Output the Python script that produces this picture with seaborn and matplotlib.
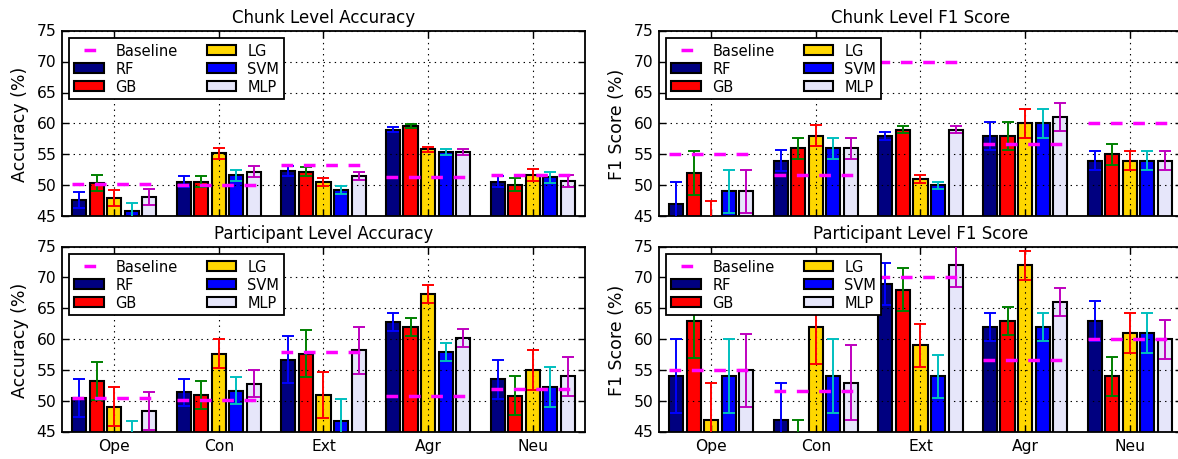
import matplotlib
matplotlib.use("Agg")
import matplotlib.pyplot as plt
import matplotlib.patches as mpatches
from matplotlib.lines import Line2D
import seaborn as sns
import pandas as pd

traits = ["Ope", "Con", "Ext", "Agr", "Neu"]
models = ["RF", "GB", "LG", "SVM", "MLP"]

bar_colors = ["#000080", "#ff0000", "#ffd700", "#0000ff", "#e6e6fa"]
err_colors = ["#0000ff", "#008000", "#ff0000", "#00bfbf", "#bf00bf"]
baseline_color = "#ff00ff"

# chunk level accuracy
chunk_acc = {
    "RF": [47.6, 50.6, 52.3, 59.0, 50.6],
    "GB": [50.3, 50.6, 52.2, 59.6, 50.1],
    "LG": [47.9, 55.2, 50.5, 55.8, 51.7],
    "SVM": [45.9, 51.6, 49.2, 55.4, 51.3],
    "MLP": [48.1, 52.2, 51.5, 55.4, 50.7],
}
chunk_acc_err = {
    "RF": [1.3, 0.9, 0.8, 0.4, 0.9],
    "GB": [1.3, 0.9, 0.7, 0.35, 1.0],
    "LG": [1.3, 0.9, 0.7, 0.4, 0.95],
    "SVM": [1.25, 0.9, 0.6, 0.45, 0.9],
    "MLP": [1.35, 0.9, 0.7, 0.45, 0.95],
}
chunk_acc_base = [50.2, 50.1, 53.3, 51.4, 51.7]

# chunk level f1
chunk_f1 = {
    "RF": [47, 54, 58, 58, 54],
    "GB": [52, 56, 59, 58, 55],
    "LG": [44, 58, 51, 60, 54],
    "SVM": [49, 56, 50, 60, 54],
    "MLP": [49, 56, 59, 61, 54],
}
chunk_f1_err = {
    "RF": [3.5, 1.7, 0.6, 2.3, 1.6],
    "GB": [3.5, 1.7, 0.6, 2.3, 1.7],
    "LG": [3.5, 1.7, 0.6, 2.35, 1.6],
    "SVM": [3.5, 1.7, 0.6, 2.3, 1.6],
    "MLP": [3.5, 1.7, 0.6, 2.3, 1.6],
}
chunk_f1_base = [55.0, 51.7, 70.0, 56.7, 60.0]

# participant level accuracy
part_acc = {
    "RF": [50.5, 51.4, 56.7, 62.8, 53.5],
    "GB": [53.2, 51.0, 57.7, 62.0, 50.9],
    "LG": [49.1, 57.7, 51.0, 67.3, 55.0],
    "SVM": [43.6, 51.7, 46.7, 58.0, 52.3],
    "MLP": [48.4, 52.8, 58.2, 60.15, 54.0],
}
part_acc_err = {
    "RF": [3.15, 2.2, 3.8, 1.45, 3.15],
    "GB": [3.1, 2.3, 3.75, 1.45, 3.1],
    "LG": [3.2, 2.3, 3.75, 1.5, 3.2],
    "SVM": [3.2, 2.2, 3.7, 1.45, 3.2],
    "MLP": [3.1, 2.2, 3.75, 1.45, 3.2],
}
part_acc_base = [50.5, 50.25, 58.0, 50.9, 52.0]

# participant level f1
part_f1 = {
    "RF": [54, 47, 69, 62, 63],
    "GB": [63, 41, 68, 63, 54],
    "LG": [47, 62, 59, 72, 61],
    "SVM": [54, 54, 54, 62, 61],
    "MLP": [55, 53, 72, 66, 60],
}
part_f1_err = {
    "RF": [6, 6, 3.4, 2.3, 3.2],
    "GB": [6, 6, 3.5, 2.3, 3.2],
    "LG": [6, 6, 3.45, 2.35, 3.2],
    "SVM": [6, 6, 3.45, 2.3, 3.2],
    "MLP": [5.9, 6, 3.5, 2.3, 3.2],
}
part_f1_base = [55.0, 51.7, 70.0, 56.7, 60.0]


def make_frame(values, errors):
    rows = []
    for m in models:
        for t, v, e in zip(traits, values[m], errors[m]):
            rows.append({"trait": t, "model": m, "value": v, "err": e})
    return pd.DataFrame(rows)


def draw_panel(ax, values, errors, baseline, title, ylabel, show_xlabels):
    df = make_frame(values, errors)
    sns.barplot(data=df, x="trait", y="value", hue="model",
                order=traits, hue_order=models, palette=bar_colors,
                edgecolor="black", linewidth=1.5, width=0.84, gap=0.2,
                saturation=1, errorbar=None, legend=False, ax=ax)
    bar_groups = list(ax.containers)

    # error bars on top of each bar, coloured like the old matplotlib cycle
    for container, m, ec in zip(bar_groups, models, err_colors):
        xs = [b.get_x() + b.get_width() / 2 for b in container]
        ax.errorbar(xs, values[m], yerr=errors[m], fmt="none", ecolor=ec,
                    elinewidth=1.4, capsize=4, capthick=1.4, zorder=3)

    # dashed baseline across each group
    first, last = bar_groups[0], bar_groups[-1]
    for i, b in enumerate(baseline):
        x0 = first[i].get_x()
        x1 = last[i].get_x() + last[i].get_width()
        ax.hlines(b, x0, x1, colors=baseline_color, linewidth=2.5,
                  linestyles=[(0, (8.4, 7.7))], zorder=4)

    ax.set_ylim(45, 75)
    ax.set_yticks(range(45, 76, 5))
    ax.set_xlim(-0.5, len(traits) - 0.5)
    ax.grid(True, color="black", linestyle=":", linewidth=0.8)
    ax.xaxis.grid(True)
    ax.set_axisbelow(False)
    ax.set_title(title, fontsize=12, pad=6)
    ax.set_ylabel(ylabel, fontsize=12.5)
    ax.set_xlabel("")
    ax.tick_params(direction="in", top=True, right=True, length=5,
                   labelsize=11.2, width=1)
    if not show_xlabels:
        ax.set_xticklabels([])

    handles = [Line2D([], [], color=baseline_color, linewidth=2.5,
                      linestyle=(34.8, (8.4, 30)))]
    for c in bar_colors:
        handles.append(mpatches.Patch(facecolor=c, edgecolor="black", linewidth=1.5))
    leg = ax.legend(handles, ["Baseline"] + models, loc="upper left", ncol=2,
                    fontsize=10.5, fancybox=False, framealpha=1,
                    edgecolor="black", borderaxespad=0.5, borderpad=0.35,
                    handlelength=2, handleheight=0.7, columnspacing=2,
                    handletextpad=0.8, labelspacing=0.2)
    leg.get_frame().set_linewidth(1.3)


plt.style.use("classic")
plt.rcParams["figure.facecolor"] = "white"
plt.rcParams["savefig.facecolor"] = "white"
plt.rcParams["lines.scale_dashes"] = False
plt.rcParams["axes.linewidth"] = 1.3
plt.rcParams["font.family"] = ["DejaVu Sans"]

fig, axes = plt.subplots(2, 2, figsize=(11.78, 4.6), dpi=100)
fig.subplots_adjust(left=0.0526, right=1.0034, top=0.931, bottom=0.0587,
                    wspace=0.1415, hspace=0.164)

draw_panel(axes[0, 0], chunk_acc, chunk_acc_err, chunk_acc_base,
           "Chunk Level Accuracy", "Accuracy (%)", False)
draw_panel(axes[0, 1], chunk_f1, chunk_f1_err, chunk_f1_base,
           "Chunk Level F1 Score", "F1 Score (%)", False)
draw_panel(axes[1, 0], part_acc, part_acc_err, part_acc_base,
           "Participant Level Accuracy", "Accuracy (%)", True)
draw_panel(axes[1, 1], part_f1, part_f1_err, part_f1_base,
           "Participant Level F1 Score", "F1 Score (%)", True)

fig.savefig("out.png", dpi=100)
